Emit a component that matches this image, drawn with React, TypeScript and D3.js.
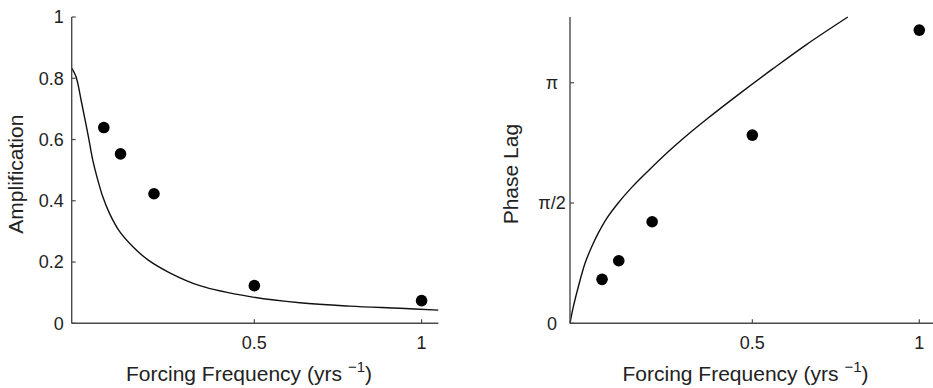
import React from 'react'
import * as d3 from 'd3'

// observed forcing frequencies (yrs^-1) and responses
const obsFreq = [0.05, 0.1, 0.2, 0.5, 1.0]
const obsAmp = [0.639, 0.553, 0.423, 0.123, 0.074]
const obsLag = [0.574, 0.817, 1.326, 2.458, 3.829]

// model curve, amplification
const ampCurveX = [-0.046, -0.033, -0.018, -0.006, 0.004, 0.017, 0.032, 0.047, 0.067, 0.097, 0.137, 0.182, 0.247, 0.337, 0.487, 0.636, 0.786, 0.935, 1.05]
const ampCurveY = [0.833, 0.805, 0.729, 0.664, 0.609, 0.533, 0.468, 0.413, 0.359, 0.3, 0.25, 0.207, 0.165, 0.123, 0.087, 0.067, 0.056, 0.049, 0.043]

// model curve, phase lag (radians)
const lagCurveX = [-0.046, -0.036, -0.021, -0.001, 0.019, 0.039, 0.064, 0.099, 0.139, 0.188, 0.248, 0.3, 0.363, 0.462, 0.562, 0.662, 0.786]
const lagCurveY = [0, 0.217, 0.478, 0.783, 1.0, 1.18, 1.37, 1.575, 1.775, 1.99, 2.24, 2.44, 2.665, 3.0, 3.325, 3.64, 4.0]

const ampTicks = [0, 0.2, 0.4, 0.6, 0.8, 1]
const ampTickLabels = ['0', '0.2', '0.4', '0.6', '0.8', '1']
const lagTicks = [0, Math.PI / 2, Math.PI]
const lagTickLabels = ['0', 'π/2', 'π']
const freqTicks = [0.5, 1]
const freqTickLabels = ['0.5', '1']

const W = 933
const H = 388
const font = '"Liberation Sans", Arial, Helvetica, sans-serif'
const axisColor = '#4a4a4a'

type PanelProps = {
  left: number
  right: number
  xDomain: [number, number]
  yDomain: [number, number]
  curveX: number[]
  curveY: number[]
  obsY: number[]
  yTicks: number[]
  yTickLabels: string[]
  yLabel: string
  yLabelX: number
  yTickAnchor: 'end' | 'middle'
  yTickOffset: number
}

const top = 17
const bottom = 323.3

const Panel: React.FC<PanelProps> = (p) => {
  const x = d3.scaleLinear().domain(p.xDomain).range([p.left, p.right])
  const y = d3.scaleLinear().domain(p.yDomain).range([bottom, top])

  const pts: [number, number][] = p.curveX.map((v, i) => [v, p.curveY[i]])
  const line = d3
    .line<[number, number]>()
    .x((d) => x(d[0]))
    .y((d) => y(d[1]))
    .curve(d3.curveCatmullRom.alpha(0.5))

  const x0 = p.left
  const xMid = (p.left + Math.min(p.right, W)) / 2

  return (
    <g>
      {/* curve */}
      <path d={line(pts) || ''} fill="none" stroke="#111" strokeWidth={1.4} />

      {/* observations */}
      {obsFreq.map((f, i) => (
        <circle key={i} cx={x(f)} cy={y(p.obsY[i])} r={5.8} fill="#000" />
      ))}

      {/* axes */}
      <line x1={x0} x2={x0} y1={top} y2={bottom} stroke={axisColor} strokeWidth={1.4} />
      <line x1={x0} x2={p.right} y1={bottom} y2={bottom} stroke={axisColor} strokeWidth={1.4} />

      {p.yTicks.map((t, i) => (
        <g key={'y' + i}>
          <line x1={x0} x2={x0 + 4} y1={y(t)} y2={y(t)} stroke={axisColor} strokeWidth={1.2} />
          <text
            x={x0 - p.yTickOffset}
            y={y(t)}
            dy="0.35em"
            textAnchor={p.yTickAnchor}
            fontSize={18}
            fontFamily={font}
            fill="#222"
          >
            {p.yTickLabels[i]}
          </text>
        </g>
      ))}

      {freqTicks.map((t, i) => (
        <g key={'x' + i}>
          <line x1={x(t)} x2={x(t)} y1={bottom} y2={bottom - 4} stroke={axisColor} strokeWidth={1.2} />
          <text x={x(t)} y={349} textAnchor="middle" fontSize={18} fontFamily={font} fill="#222">
            {freqTickLabels[i]}
          </text>
        </g>
      ))}

      {/* axis labels */}
      <text x={xMid - 6} y={381} textAnchor="middle" fontSize={21} fontFamily={font} fill="#222">
        Forcing Frequency (yrs
        <tspan dx={6} dy={-9} fontSize={15}>−1</tspan>
        <tspan dy={9}>)</tspan>
      </text>
      <text
        transform={`translate(${p.yLabelX},${(top + bottom) / 2 + 4}) rotate(-90)`}
        textAnchor="middle"
        fontSize={21}
        fontFamily={font}
        fill="#222"
      >
        {p.yLabel}
      </text>
    </g>
  )
}

const App: React.FC = () => {
  return (
    <svg
      width={W}
      height={H}
      style={{ position: 'absolute', left: 0, top: 0, background: '#fff' }}
    >
      <Panel
        left={71.7}
        right={438.3}
        xDomain={[-0.046, 1.05]}
        yDomain={[0, 1]}
        curveX={ampCurveX}
        curveY={ampCurveY}
        obsY={obsAmp}
        yTicks={ampTicks}
        yTickLabels={ampTickLabels}
        yLabel="Amplification"
        yLabelX={23}
        yTickAnchor="end"
        yTickOffset={8}
      />
      <Panel
        left={570}
        right={936}
        xDomain={[-0.046, 1.05]}
        yDomain={[0, 4]}
        curveX={lagCurveX}
        curveY={lagCurveY}
        obsY={obsLag}
        yTicks={lagTicks}
        yTickLabels={lagTickLabels}
        yLabel="Phase Lag"
        yLabelX={518}
        yTickAnchor="middle"
        yTickOffset={18}
      />
    </svg>
  )
}

export default App
